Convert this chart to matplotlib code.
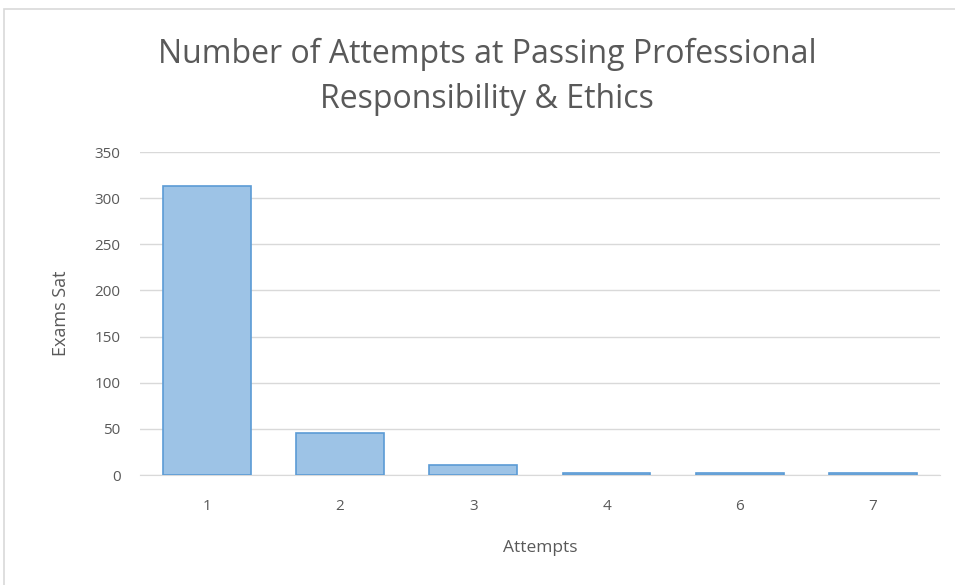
import numpy as np
import matplotlib.pyplot as plt
from matplotlib.patches import Rectangle

# datos
attempts = ["1", "2", "3", "4", "6", "7"]
exams_sat = [313, 46, 11, 2, 2, 2]
yticks = [0, 50, 100, 150, 200, 250, 300, 350]

plt.rcParams['font.family'] = ['Open Sans', 'DejaVu Sans']

fig = plt.figure(figsize=(9.55, 5.85), dpi=100)
ax = fig.add_axes([0.1466, 0.188, 0.8374, 0.552])

# marco del grafico
fig.patches.append(Rectangle((4/955, -0.1), 1.1, 1 - 9/585 + 0.1, transform=fig.transFigure,
                             fill=False, edgecolor="#D9D9D9", linewidth=1.2))

x = np.arange(len(attempts))
ax.bar(x, exams_sat, width=0.66, color="#9DC3E6", edgecolor="#5B9BD5", linewidth=1.2, zorder=3)

ax.set_xlim(-0.5, len(attempts) - 0.5)
ax.set_ylim(0, 350)
ax.set_yticks(yticks)
ax.set_xticks(x)
ax.set_xticklabels(attempts)
ax.grid(axis="y", color="#D9D9D9", linewidth=1, zorder=0)
for s in ["top", "right", "left"]:
    ax.spines[s].set_visible(False)
ax.spines["bottom"].set_color("#D9D9D9")
ax.tick_params(length=0, colors="#595959", labelsize=11)
ax.tick_params(axis="x", pad=17)
ax.tick_params(axis="y", pad=14)

ax.set_xlabel("Attempts", color="#595959", fontsize=12.5, labelpad=19)
ax.set_ylabel("Exams Sat", color="#595959", fontsize=13, labelpad=18)

fig.text(0.51, 0.868, "Number of Attempts at Passing Professional\nResponsibility & Ethics",
         ha="center", va="center", fontsize=23, color="#595959", linespacing=1.47)

plt.savefig("out.png")
plt.close()
